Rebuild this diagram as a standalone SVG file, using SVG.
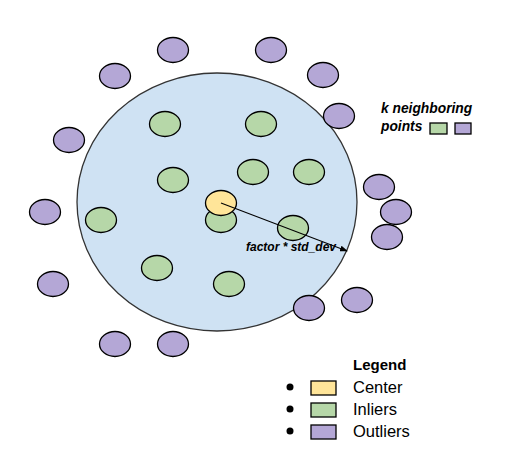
<svg xmlns="http://www.w3.org/2000/svg" width="511" height="469" viewBox="0 0 511 469">
<style>
.pt{stroke:#000;stroke-width:1.3}
.o{fill:#b4a7d6}
.i{fill:#b6d7a8}
.c{fill:#ffe599}
.lbl{font-family:"Liberation Sans",Arial,sans-serif;font-weight:bold;font-style:italic;fill:#000}
.leg{font-family:"Liberation Sans",Arial,sans-serif;font-size:16.5px;fill:#000}
</style>
<defs>
<marker id="ah" markerWidth="8" markerHeight="6" refX="7" refY="3" orient="auto" markerUnits="userSpaceOnUse">
<path d="M0,0 L8,3 L0,6 Z" fill="#000"/>
</marker>
</defs>
<rect width="511" height="469" fill="#fff"/>
<g id="region"><ellipse cx="217" cy="202" rx="140" ry="129" fill="#cfe2f3" stroke="#333" stroke-width="1.3"/></g>
<g id="outliers">
<ellipse id="o1" class="pt o" cx="173" cy="50" rx="15.5" ry="12.5"/>
<ellipse id="o2" class="pt o" cx="115" cy="76" rx="15.5" ry="12.5"/>
<ellipse id="o3" class="pt o" cx="69" cy="140" rx="15.5" ry="12.5"/>
<ellipse id="o4" class="pt o" cx="45" cy="212" rx="15.5" ry="12.5"/>
<ellipse id="o5" class="pt o" cx="53" cy="284" rx="15.5" ry="12.5"/>
<ellipse id="o6" class="pt o" cx="115" cy="344" rx="15.5" ry="12.5"/>
<ellipse id="o7" class="pt o" cx="173" cy="344" rx="15.5" ry="12.5"/>
<ellipse id="o8" class="pt o" cx="271" cy="50" rx="15.5" ry="12.5"/>
<ellipse id="o9" class="pt o" cx="323" cy="75" rx="15.5" ry="12.5"/>
<ellipse id="o10" class="pt o" cx="339" cy="116" rx="15.5" ry="12.5"/>
<ellipse id="o11" class="pt o" cx="379" cy="187" rx="15.5" ry="12.5"/>
<ellipse id="o12" class="pt o" cx="396" cy="212" rx="15.5" ry="12.5"/>
<ellipse id="o13" class="pt o" cx="387" cy="237" rx="15.5" ry="12.5"/>
<ellipse id="o14" class="pt o" cx="309" cy="308" rx="15.5" ry="12.5"/>
<ellipse id="o15" class="pt o" cx="357" cy="300" rx="15.5" ry="12.5"/>
</g>
<g id="inliers">
<ellipse id="i1" class="pt i" cx="165" cy="124" rx="15.5" ry="12.5"/>
<ellipse id="i2" class="pt i" cx="261" cy="124" rx="15.5" ry="12.5"/>
<ellipse id="i3" class="pt i" cx="173" cy="180" rx="15.5" ry="12.5"/>
<ellipse id="i4" class="pt i" cx="253" cy="172" rx="15.5" ry="12.5"/>
<ellipse id="i5" class="pt i" cx="309" cy="172" rx="15.5" ry="12.5"/>
<ellipse id="i6" class="pt i" cx="101" cy="220" rx="15.5" ry="12.5"/>
<ellipse id="i7" class="pt i" cx="221" cy="220" rx="15.5" ry="12.5"/>
<ellipse id="i8" class="pt i" cx="293" cy="228" rx="15.5" ry="12.5"/>
<ellipse id="i9" class="pt i" cx="157" cy="268" rx="15.5" ry="12.5"/>
<ellipse id="i10" class="pt i" cx="229" cy="284" rx="15.5" ry="12.5"/>
</g>
<g id="center"><ellipse class="pt c" cx="221" cy="203" rx="15.5" ry="12.5"/></g>
<g id="connectors">
<line x1="221" y1="203" x2="347" y2="251" stroke="#000" stroke-width="1.2" marker-end="url(#ah)"/>
</g>
<g id="radius-label"><text class="lbl" x="246" y="251" font-size="12">factor * std_dev</text></g>
<g id="k-label">
<text class="lbl" x="381" y="113" font-size="13.8">k neighboring</text>
<text class="lbl" x="381" y="131" font-size="13.8">points</text>
<rect class="pt i" x="430" y="123" width="17" height="11"/>
<rect class="pt o" x="455" y="123" width="16" height="11"/>
</g>
<g id="legend">
<text x="353" y="370" font-family="Liberation Sans,Arial,sans-serif" font-size="15" font-weight="bold">Legend</text>
<circle cx="290" cy="387" r="3.5" fill="#000"/>
<circle cx="290" cy="409" r="3.5" fill="#000"/>
<circle cx="290" cy="431" r="3.5" fill="#000"/>
<rect class="pt c" x="311" y="381" width="25" height="14"/>
<rect class="pt i" x="311" y="403" width="25" height="14"/>
<rect class="pt o" x="311" y="425" width="25" height="14"/>
<text class="leg" x="353" y="393">Center</text>
<text class="leg" x="353" y="415">Inliers</text>
<text class="leg" x="353" y="437">Outliers</text>
</g>
</svg>
